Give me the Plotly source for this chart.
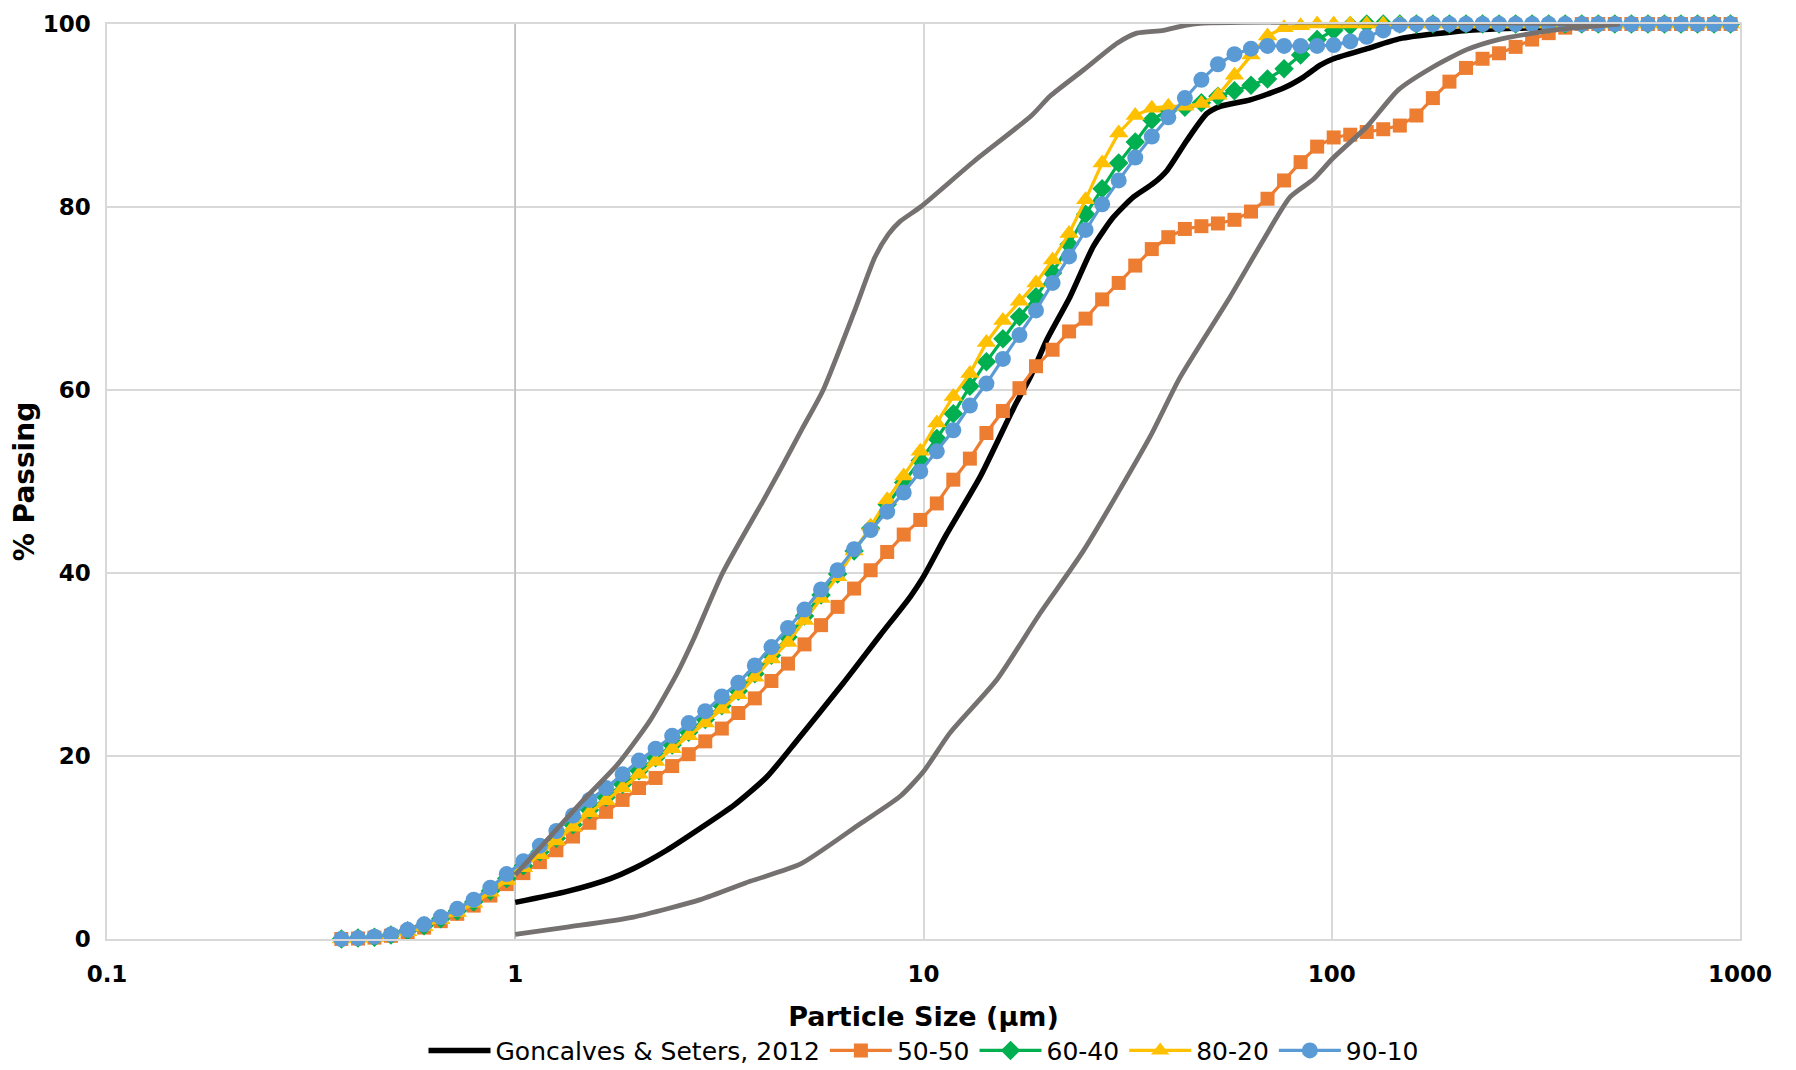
import plotly.graph_objects as go

# Laser-diffraction size classes (µm)
sizes = [0.375, 0.412, 0.452, 0.496, 0.545, 0.598, 0.657, 0.721, 0.791, 0.869,
         0.953, 1.047, 1.149, 1.261, 1.385, 1.520, 1.669, 1.832, 2.010, 2.207,
         2.423, 2.660, 2.920, 3.206, 3.519, 3.862, 4.241, 4.656, 5.111, 5.611,
         6.159, 6.761, 7.421, 8.148, 8.944, 9.819, 10.78, 11.83, 12.99, 14.26,
         15.65, 17.18, 18.86, 20.71, 22.73, 24.95, 27.39, 30.07, 33.01, 36.24,
         39.78, 43.67, 47.94, 52.62, 57.77, 63.41, 69.61, 76.42, 83.89, 92.09,
         101.1, 111.0, 121.8, 133.7, 146.8, 161.2, 176.9, 194.2, 213.2, 234.1,
         256.9, 282.1, 309.6, 339.9, 373.1, 409.6, 449.7, 493.6, 541.9, 594.9,
         653.0, 716.8, 786.9, 863.9, 948.3]

# Cumulative % passing for each blend
pass_50_50 = [0.0, 0.05, 0.15, 0.35, 0.75, 1.25, 1.95, 2.75, 3.65, 4.75,
              6.0, 7.2, 8.4, 9.7, 11.2, 12.7, 13.9, 15.2, 16.5, 17.6,
              18.9, 20.2, 21.6, 23.0, 24.7, 26.3, 28.2, 30.1, 32.2, 34.3,
              36.3, 38.3, 40.3, 42.3, 44.2, 45.8, 47.6, 50.2, 52.5, 55.3,
              57.7, 60.2, 62.6, 64.4, 66.4, 67.8, 69.9, 71.7, 73.6, 75.4,
              76.7, 77.6, 77.9, 78.2, 78.6, 79.5, 80.9, 82.9, 84.9, 86.6,
              87.6, 87.9, 88.2, 88.5, 88.9, 90.0, 91.9, 93.7, 95.2, 96.2,
              96.8, 97.5, 98.3, 99.0, 99.6, 100, 100, 100, 100, 100,
              100, 100, 100, 100, 100]

pass_60_40 = [0.0, 0.1, 0.2, 0.45, 0.9, 1.45, 2.2, 3.05, 4.05, 5.25,
              6.6, 8.0, 9.5, 11.0, 12.5, 14.1, 15.5, 16.9, 18.4, 19.8,
              21.2, 22.6, 24.0, 25.5, 27.1, 29.0, 31.0, 33.0, 35.3, 37.6,
              39.9, 42.4, 44.9, 47.5, 49.9, 52.3, 54.7, 57.4, 60.4, 63.1,
              65.6, 68.0, 70.2, 72.8, 75.9, 79.2, 82.0, 84.8, 87.1, 89.5,
              90.6, 90.9, 91.4, 92.1, 92.7, 93.3, 94.0, 95.1, 96.6, 98.3,
              99.3, 99.8, 100, 100, 100, 100, 100, 100, 100, 100,
              100, 100, 100, 100, 100, 100, 100, 100, 100, 100,
              100, 100, 100, 100, 100]

pass_80_20 = [0.0, 0.05, 0.15, 0.4, 0.8, 1.35, 2.1, 2.9, 3.9, 5.1,
              6.4, 7.8, 9.2, 10.7, 12.2, 13.8, 15.1, 16.5, 18.0, 19.4,
              20.8, 22.2, 23.6, 25.1, 26.7, 28.6, 30.6, 32.4, 34.8, 37.2,
              39.6, 42.4, 45.1, 48.0, 50.6, 53.3, 56.4, 59.3, 61.8, 65.2,
              67.6, 69.7, 71.7, 74.2, 77.1, 80.8, 84.8, 88.1, 90.0, 90.8,
              91.0, 91.0, 91.3, 92.2, 94.4, 96.6, 98.7, 99.6, 99.8, 100,
              100, 100, 100, 100, 100, 100, 100, 100, 100, 100,
              100, 100, 100, 100, 100, 100, 100, 100, 100, 100,
              100, 100, 100, 100, 100]

pass_90_10 = [0.0, 0.1, 0.25, 0.5, 1.0, 1.6, 2.4, 3.3, 4.3, 5.6,
              7.1, 8.5, 10.2, 11.8, 13.5, 15.2, 16.5, 18.0, 19.5, 20.8,
              22.2, 23.6, 24.9, 26.5, 28.0, 29.9, 31.9, 34.0, 36.0, 38.2,
              40.3, 42.6, 44.7, 46.7, 48.8, 51.1, 53.3, 55.6, 58.3, 60.7,
              63.4, 66.0, 68.7, 71.7, 74.6, 77.5, 80.3, 82.9, 85.4, 87.7,
              89.8, 91.9, 93.9, 95.6, 96.7, 97.3, 97.6, 97.6, 97.6, 97.6,
              97.7, 98.1, 98.6, 99.3, 99.9, 100, 100, 100, 100, 100,
              100, 100, 100, 100, 100, 100, 100, 100, 100, 100,
              100, 100, 100, 100, 100]

# Reference gradation (Goncalves & Seters, 2012)
ref_size = [1.0, 1.34, 1.71, 1.95, 2.35, 2.84, 3.43, 4.13, 4.9, 6.37, 7.83,
            9.28, 10.0, 11.41, 13.76, 16.7, 18.3, 20.05, 22.86, 26.06, 29.2,
            32.7, 36.6, 39.5, 44.2, 49.4, 53.3, 63.1, 76.2, 85.3, 93.7, 101,
            122, 147, 214, 312, 500]
ref_pass = [4.0, 5.2, 6.6, 7.7, 9.7, 12.1, 14.6, 17.7, 21.7, 28.0, 33.2,
            37.4, 39.6, 44.3, 50.5, 58.2, 61.5, 65.5, 70.2, 75.7, 78.9,
            81.1, 82.6, 84.0, 87.3, 90.2, 91.0, 91.7, 93.0, 94.2, 95.5, 96.2,
            97.3, 98.4, 99.3, 99.6, 100]

# Envelope limits
upper_size = [1.0, 1.218, 1.47, 1.775, 2.14, 2.49, 2.73, 3.22, 4.06, 4.46,
              5.05, 5.68, 6.76, 7.6, 8.2, 8.75, 9.83, 13.3, 18.4, 20.4, 24.7,
              29.8, 33.3, 38.7, 45.8, 500]
upper_pass = [7.0, 11.2, 15.2, 19.0, 23.9, 29.0, 32.7, 40.0, 48.0, 51.3,
              55.8, 60.0, 68.5, 74.5, 77.0, 78.4, 80.0, 85.0, 90.0, 92.1,
              95.0, 97.9, 99.0, 99.3, 100, 100]

lower_size = [1.0, 1.34, 1.95, 2.84, 3.76, 5.0, 7.0, 8.77, 10.0, 11.6, 15.1,
              19.3, 24.7, 35.9, 42.4, 56.4, 68.0, 79.1, 90.0, 100.5, 122,
              145.6, 177, 214, 256, 312, 374, 508]
lower_pass = [0.5, 1.3, 2.4, 4.3, 6.3, 8.2, 12.6, 15.6, 18.3, 22.5, 28.3,
              35.6, 42.5, 54.9, 61.3, 70.2, 76.4, 81.1, 83.0, 85.3, 88.8,
              92.8, 95.3, 97.2, 98.3, 99.0, 99.5, 100]

x_ticks = [0.1, 1, 10, 100, 1000]
x_tick_text = ["0.1", "1", "10", "100", "1000"]

FONT = "DejaVu Sans"
GRID = "#D9D9D9"
GREY = "#767171"

fig = go.Figure()

# vertical axis crossing at 1 µm
fig.add_trace(go.Scatter(x=[1, 1], y=[0, 100], mode="lines",
                         line=dict(color="#BFBFBF", width=1.5),
                         showlegend=False, hoverinfo="skip"))

fig.add_trace(go.Scatter(x=ref_size, y=ref_pass, mode="lines",
                         name="Goncalves & Seters, 2012",
                         line=dict(color="black", width=5.5, shape="spline",
                                   smoothing=0.6)))

blends = [
    ("50-50", pass_50_50, "#ED7D31", "square", 14),
    ("60-40", pass_60_40, "#00B050", "diamond", 15),
    ("80-20", pass_80_20, "#FFC000", "triangle-up", 17),
    ("90-10", pass_90_10, "#5B9BD5", "circle", 16),
]
for name, vals, color, symbol, msize in blends:
    fig.add_trace(go.Scatter(x=sizes, y=vals, mode="lines+markers", name=name,
                             cliponaxis=False,
                             line=dict(color=color, width=3.2),
                             marker=dict(color=color, symbol=symbol,
                                         size=msize)))

for xs, ys in [(upper_size, upper_pass), (lower_size, lower_pass)]:
    fig.add_trace(go.Scatter(x=xs, y=ys, mode="lines", showlegend=False,
                             line=dict(color=GREY, width=4.8, shape="spline",
                                       smoothing=0.6),
                             hoverinfo="skip"))

fig.update_layout(
    width=1796, height=1070,
    margin=dict(l=107, r=56, t=24, b=131, autoexpand=False),
    paper_bgcolor="white", plot_bgcolor="white",
    font=dict(family=FONT, color="black"),
    showlegend=True,
    legend=dict(orientation="h", x=0.5, xanchor="center", y=-0.122,
                yanchor="middle", font=dict(family=FONT, size=25),
                itemwidth=62, tracegroupgap=0),
    xaxis=dict(type="log", range=[-1, 3], tickvals=x_ticks,
               ticktext=x_tick_text, showgrid=True, gridcolor=GRID,
               gridwidth=1.5, zeroline=False, showline=True,
               linecolor=GRID, linewidth=1.5, mirror=True, ticks="",
               automargin=False,
               tickfont=dict(family=FONT, size=23, color="black",
                             weight="bold"),
               ticklabelstandoff=14,
               title=dict(text="Particle Size (µm)", standoff=21,
                          font=dict(family=FONT, size=27, color="black",
                                    weight="bold"))),
    yaxis=dict(range=[0, 100], dtick=20, showgrid=True, gridcolor=GRID,
               gridwidth=1.5, zeroline=False, showline=True, linecolor=GRID,
               linewidth=1.5, mirror=True, ticks="", automargin=False,
               tickfont=dict(family=FONT, size=23, color="black",
                             weight="bold"),
               ticklabelstandoff=10,
               title=dict(text="% Passing", standoff=0,
                          font=dict(family=FONT, size=28, color="black",
                                    weight="bold"))),
)

fig.write_html("out.html")
